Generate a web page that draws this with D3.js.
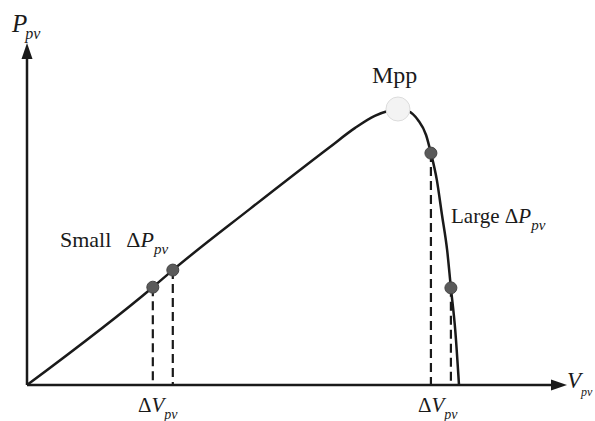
<!DOCTYPE html>
<html><head><meta charset="utf-8">
<script src="https://cdn.jsdelivr.net/npm/d3@7"></script>
<style>html,body{margin:0;padding:0;background:#fff;}svg{display:block;}</style>
</head><body>
<svg id="chart" width="595" height="421"></svg>
<script>
// P-V curve of a PV module (normalised units, V and P in %)
const curveV = [0, 23.3, 27.0, 41.3, 56.1, 60.7, 64.4, 66.85, 68.7, 70.6, 72.4, 73.9, 74.8, 75.9, 76.85, 77.8, 78.5, 79.3, 80.0];
const curveP = [0, 28.6, 33.6, 51.5, 69.6, 75.1, 78.7, 80.1, 80.7, 80.1, 77.5, 73.1, 67.8, 59.9, 49.7, 39.5, 28.4, 16.1, 0];
const mppV = [68.7];
const mppP = [80.7];
const smallV = [23.3, 27.0];
const smallP = [28.6, 33.6];
const largeV = [74.8, 78.5];
const largeP = [67.8, 28.4];
const axisMax = [100, 100];

const svg = d3.select("#chart");
const x = d3.scaleLinear().domain([0, axisMax[0]]).range([27, 567]);
const y = d3.scaleLinear().domain([0, axisMax[1]]).range([385, 43]);
const font = "'Liberation Serif','Times New Roman',serif";
const ink = "#1a1a1a";

// axes
svg.append("line").attr("x1", x(0)).attr("y1", y(0)).attr("x2", x(axisMax[0]) - 12).attr("y2", y(0))
  .attr("stroke", ink).attr("stroke-width", 2.5);
svg.append("line").attr("x1", x(0)).attr("y1", y(0)).attr("x2", x(0)).attr("y2", y(axisMax[1]) + 12)
  .attr("stroke", ink).attr("stroke-width", 2.5);
// arrow heads
const xt = x(axisMax[0]), yt = y(0);
svg.append("path").attr("d", `M${xt},${yt} L${xt-16},${yt-5.5} L${xt-16},${yt+5.5} Z`).attr("fill", ink);
const ax = x(0), ay = y(axisMax[1]);
svg.append("path").attr("d", `M${ax},${ay} L${ax-5.5},${ay+16} L${ax+5.5},${ay+16} Z`).attr("fill", ink);

// dashed drop lines
const drops = smallV.map((v,i)=>[v, smallP[i]]).concat(largeV.map((v,i)=>[v, largeP[i]]));
svg.selectAll("line.drop").data(drops).enter().append("line").attr("class","drop")
  .attr("x1", d=>x(d[0])).attr("x2", d=>x(d[0]))
  .attr("y1", d=>y(d[1])).attr("y2", y(0))
  .attr("stroke", ink).attr("stroke-width", 2.2).attr("stroke-dasharray", "9,5");

// curve
const pts = curveV.map((v,i)=>[v, curveP[i]]);
const line = d3.line().x(d=>x(d[0])).y(d=>y(d[1])).curve(d3.curveMonotoneX);
svg.append("path").attr("d", line(pts)).attr("fill","none").attr("stroke", ink).attr("stroke-width", 2.5);

// Mpp marker
svg.selectAll("circle.mpp").data(mppV.map((v,i)=>[v, mppP[i]])).enter().append("circle")
  .attr("cx", d=>x(d[0])).attr("cy", d=>y(d[1])).attr("r", 12)
  .attr("fill", "#f3f3f3").attr("stroke", "#dcdcdc").attr("stroke-width", 1);

// operating points
svg.selectAll("circle.pt").data(drops).enter().append("circle")
  .attr("cx", d=>x(d[0])).attr("cy", d=>y(d[1])).attr("r", 6)
  .attr("fill", "#5a5a5a").attr("stroke", "#444").attr("stroke-width", 1);

// text helpers
function label(xp, yp, parts) {
  const t = svg.append("text").attr("x", xp).attr("y", yp).attr("font-family", font).attr("fill", ink);
  parts.forEach(p => {
    const s = t.append("tspan").text(p.t).attr("font-size", p.s);
    if (p.i) s.attr("font-style", "italic");
    if (p.dy) s.attr("dy", p.dy);
    if (p.dx) s.attr("dx", p.dx);
  });
  return t;
}
label(12, 32, [{t:"P", s:25, i:true}, {t:"pv", s:16, i:true, dy:7, dx:-2}]);
label(567, 388, [{t:"V", s:23, i:true}, {t:"pv", s:12, i:true, dy:8}]);
label(372, 83, [{t:"Mpp", s:24}]);
label(60, 247, [{t:"Small", s:22}, {t:"\u0394", s:22, dx:15}, {t:"P", s:22, i:true}, {t:"pv", s:15, i:true, dy:7}]);
label(451, 223, [{t:"Large \u0394", s:21}, {t:"P", s:21, i:true}, {t:"pv", s:15, i:true, dy:7}]);
label(138, 412, [{t:"\u0394", s:21}, {t:"V", s:21, i:true}, {t:"pv", s:14, i:true, dy:7}]);
label(418, 412, [{t:"\u0394", s:21}, {t:"V", s:21, i:true}, {t:"pv", s:14, i:true, dy:7}]);
</script>
</body></html>
